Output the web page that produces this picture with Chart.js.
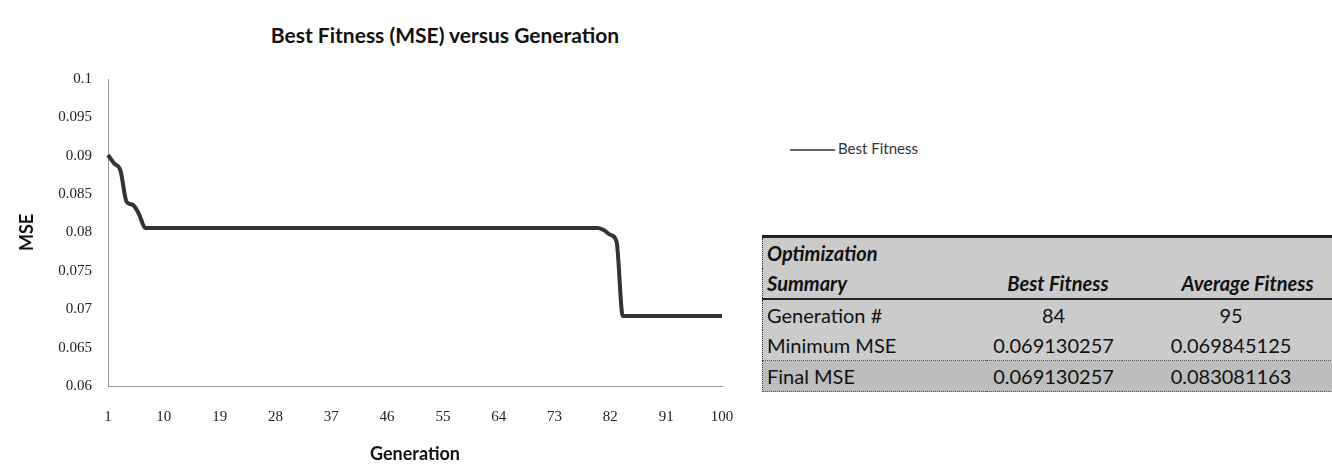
<!DOCTYPE html>
<html>
<head>
<meta charset="utf-8">
<script src="https://cdn.jsdelivr.net/npm/chart.js@4/dist/chart.umd.min.js"></script>
<style>
  body { margin: 0; background: #fff; width: 1332px; height: 465px; overflow: hidden; position: relative; font-family: Lato, "Open Sans", sans-serif; }
  #wrap { position: absolute; left: 0; top: 0; width: 760px; height: 465px; }
  #title { position: absolute; top: 22px; left: 245px; width: 400px; text-align: center; font-weight: bold; font-size: 21px; color: #111; }
  #legend { position: absolute; left: 790px; top: 139px; font-size: 15px; color: #333; white-space: nowrap; }
  #legend span.line { display: inline-block; width: 45px; height: 0; border-top: 2px solid #666; vertical-align: middle; margin-right: 3px; }
  #tbl { position: absolute; left: 762px; top: 235px; width: 570px; overflow: hidden; }
  table { border-collapse: collapse; background: #cbcbcb; font-size: 20px; color: #111; table-layout: fixed; width: 596px; }
  td { height: 30px; padding: 0 4px; white-space: nowrap; }
  tr.top td { border-top: 3px solid #222; font-weight: bold; font-style: italic; }
  tr.head td { border-bottom: 2px solid #222; font-weight: bold; font-style: italic; }
  td:first-child { border-left: 1px dotted #333; }
  td.c { text-align: center; }
  td.r { text-align: right; }
  tr.last td { border-top: 1px dotted #555; background: #bdbdbd; border-bottom: 1px dotted #555; }
</style>
</head>
<body>
<div id="title">Best Fitness (MSE) versus Generation</div>
<div id="wrap"><canvas id="cChart"></canvas></div>
<div id="legend"><span class="line"></span>Best Fitness</div>
<div id="tbl"></div>
<script>
const generations = Array.from({length: 100}, (_, i) => i + 1);
const bestFitness = [
  0.0901, 0.0890, 0.0881, 0.0840, 0.0836, 0.0824, 0.0806, 0.0806, 0.0806, 0.0806,
  0.0806, 0.0806, 0.0806, 0.0806, 0.0806, 0.0806, 0.0806, 0.0806, 0.0806, 0.0806,
  0.0806, 0.0806, 0.0806, 0.0806, 0.0806, 0.0806, 0.0806, 0.0806, 0.0806, 0.0806,
  0.0806, 0.0806, 0.0806, 0.0806, 0.0806, 0.0806, 0.0806, 0.0806, 0.0806, 0.0806,
  0.0806, 0.0806, 0.0806, 0.0806, 0.0806, 0.0806, 0.0806, 0.0806, 0.0806, 0.0806,
  0.0806, 0.0806, 0.0806, 0.0806, 0.0806, 0.0806, 0.0806, 0.0806, 0.0806, 0.0806,
  0.0806, 0.0806, 0.0806, 0.0806, 0.0806, 0.0806, 0.0806, 0.0806, 0.0806, 0.0806,
  0.0806, 0.0806, 0.0806, 0.0806, 0.0806, 0.0806, 0.0806, 0.0806, 0.0806, 0.0806,
  0.0803, 0.0797, 0.0788, 0.06913, 0.06913, 0.06913, 0.06913, 0.06913, 0.06913, 0.06913,
  0.06913, 0.06913, 0.06913, 0.06913, 0.06913, 0.06913, 0.06913, 0.06913, 0.06913, 0.06913
];

// summary table
const summaryHead = ['Optimization', 'Summary', 'Best Fitness', 'Average Fitness'];
const rowNames = ['Generation #', 'Minimum MSE', 'Final MSE'];
const bestCol = ['84', '0.069130257', '0.069130257'];
const avgCol = ['95', '0.069845125', '0.083081163'];

let html = '<table><colgroup><col style="width:223px"><col style="width:136px"><col style="width:237px"></colgroup>';
html += '<tr class="top"><td>' + summaryHead[0] + '</td><td></td><td></td></tr>';
html += '<tr class="head"><td>' + summaryHead[1] + '</td><td class="r" style="padding-right:13px">' + summaryHead[2] + '</td><td class="r" style="padding-right:45px">' + summaryHead[3] + '</td></tr>';
for (let i = 0; i < rowNames.length; ++i) {
  html += '<tr' + (i == rowNames.length - 1 ? ' class="last"' : '') + '><td>' + rowNames[i] + '</td><td class="c">' + bestCol[i] + '</td><td class="c" style="padding-right:22px">' + avgCol[i] + '</td></tr>';
}
html += '</table>';
document.getElementById('tbl').innerHTML = html;

const data = {
  labels: generations,
  datasets: [{
    label: 'Best Fitness',
    borderColor: '#333',
    borderWidth: 4,
    pointRadius: 0,
    cubicInterpolationMode: 'monotone',
    data: bestFitness,
  }]
};

const config = {
  type: 'line',
  data: data,
  options: {
    responsive: true,
    maintainAspectRatio: false,
    animation: false,
    devicePixelRatio: 1,
    layout: { padding: { top: 79, right: 38, bottom: 0, left: 0 } },
    plugins: {
      legend: { display: false },
      tooltip: { enabled: false }
    },
    scales: {
      x: {
        grid: { display: false, drawTicks: false },
        border: { color: '#999', width: 1 },
        ticks: {
          autoSkip: false,
          maxRotation: 0,
          padding: 22,
          color: '#222',
          font: { family: '"Liberation Serif", serif', size: 15 },
          callback: function (v, i) { return i % 9 === 0 ? generations[i] : ''; }
        },
        title: {
          display: true,
          text: 'Generation',
          color: '#111',
          font: { family: 'Lato, sans-serif', size: 18, weight: 'bold' },
          padding: { top: 0, bottom: 0 }
        },
        afterFit: function (s) { s.height = 79; }
      },
      y: {
        min: 0.06,
        max: 0.1,
        grid: { display: false, drawTicks: false },
        border: { color: '#999', width: 1 },
        ticks: {
          stepSize: 0.005,
          padding: 16,
          color: '#222',
          font: { family: '"Liberation Serif", serif', size: 15 },
          callback: function (v) { return String(Number(v.toFixed(3))); }
        },
        title: {
          display: true,
          text: 'MSE',
          color: '#111',
          font: { family: 'Lato, sans-serif', size: 18, weight: 'bold' },
          padding: { top: 16, bottom: 0 }
        },
        afterFit: function (s) { s.width = 108; }
      }
    }
  }
};

const cChart = new Chart(
  document.getElementById('cChart'),
  config
);
</script>
</body>
</html>
